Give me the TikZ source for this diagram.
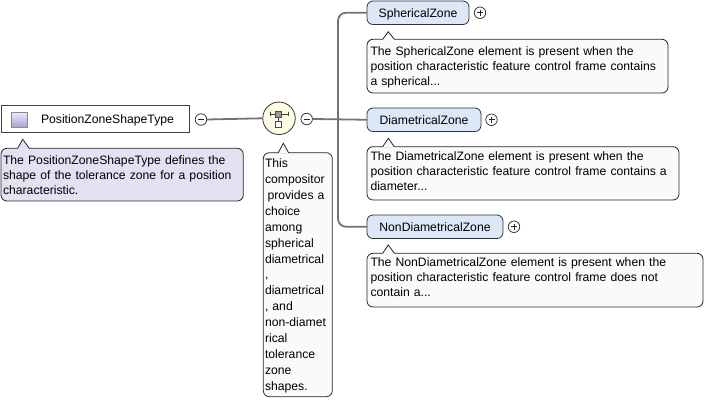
\documentclass[tikz,border=0pt]{standalone}
\usepackage{fontspec}
\setmainfont{Liberation Sans}
\definecolor{lavfill}{RGB}{230,225,242}
\definecolor{namefill}{RGB}{220,231,247}
\definecolor{compfill}{RGB}{255,252,228}
\definecolor{cdocfill}{RGB}{250,250,250}
\definecolor{iconlight}{RGB}{236,232,250}
\definecolor{icondark}{RGB}{172,156,214}
\begin{document}
\begin{tikzpicture}[x=1pt,y=-1pt,
  every node/.style={inner sep=0pt, outer sep=0pt},
  txt/.style={font=\fontsize{12.2}{15}\selectfont, text=black},
  mtxt/.style={txt, anchor=base west, align=left, text width=400pt},
  docbox/.style={draw=black!85, line width=0.8pt, rounded corners=6pt, anchor=north west},
  docline/.style={draw=black!85, line width=0.8pt},
  namebox/.style={txt, draw=black!80, fill=namefill, line width=0.8pt, rounded corners=6pt,
    anchor=north west, text height=9pt, text depth=0pt},
  pmcircle/.style={circle, draw=black!85, fill=white, line width=0.7pt, minimum size=11.5pt},
  minussign/.style={pmcircle, path picture={\draw[line width=0.7pt,black!85]
    ([xshift=-3pt]path picture bounding box.center) -- ([xshift=3pt]path picture bounding box.center);}},
  plussign/.style={pmcircle, path picture={\draw[line width=0.7pt,black!85]
    ([xshift=-3pt]path picture bounding box.center) -- ([xshift=3pt]path picture bounding box.center)
    ([yshift=-3pt]path picture bounding box.center) -- ([yshift=3pt]path picture bounding box.center);}},
  conn/.style={draw=black!55, line width=1.8pt},
]
\useasboundingbox (0,0) rectangle (710,401);

% ---- root type
\node[draw=black!75, fill=white, line width=0.8pt, minimum width=188.5pt, minimum height=27pt, anchor=north west] (ptype) at (1,105) {};
\node[draw=black!45, line width=0.6pt, top color=iconlight, bottom color=icondark, minimum width=16pt, minimum height=15pt, anchor=north west] (picon) at (11,112.5) {};
\node[txt, anchor=base west] (ptypelbl) at (41,124) {PositionZoneShapeType};
\node[minussign] (lminus) at (201,119.5) {};

% root documentation
\node[docbox, fill=lavfill, minimum width=242.3pt, minimum height=52.7pt] (ldoc) at (1,148.3) {};
\fill[lavfill] (17.7,149) -- (22.7,139.3) -- (29.3,149) -- cycle;
\draw[docline] (17.7,148.3) -- (22.7,139.3) -- (29.3,148.3);
\node[mtxt] (ldoctext) at (3,164.3) {The PositionZoneShapeType defines the\\shape of the tolerance zone for a position\\characteristic.};

% ---- compositor
\node[circle, draw=black!80, fill=compfill, line width=0.8pt, minimum size=32.5pt] (comp) at (279,118.3) {};
\draw[black!75, line width=0.7pt] (270,114) -- (288,114) (270,112) -- (270,116) (288,112) -- (288,116)
  (278.7,117) -- (278.7,121);
\draw[black!70, fill=black!40, line width=0.6pt] (275.7,111) rectangle (281.7,117);
\draw[black!70, fill=white, line width=0.6pt] (275.7,121) rectangle (281.7,127.5);
\node[minussign] (cminus) at (306.7,119) {};

% compositor documentation
\node[docbox, fill=cdocfill, minimum width=69pt, minimum height=244pt] (cdoc) at (263.3,152.7) {};
\fill[cdocfill] (278.3,153.4) -- (283.3,143.3) -- (288.6,153.4) -- cycle;
\draw[docline] (278.3,152.7) -- (283.3,143.3) -- (288.6,152.7);
\node[mtxt, font=\fontsize{12.2}{15.9}\selectfont] (cdoctext) at (265,167.7) {This\\compositor\\\hspace*{2.5pt}provides a\\choice\\among\\spherical\\diametrical\\,\\diametrical\\, and\\non-diamet\\rical\\tolerance\\zone\\shapes.};

% ---- children
\node[namebox, minimum width=102pt, minimum height=23.5pt] (sname) at (367,1) {SphericalZone};
\node[plussign] (splus) at (480,12.75) {};
\node[namebox, minimum width=114pt, minimum height=23.5pt] (dname) at (367,108) {DiametricalZone};
\node[plussign] (dplus) at (491.5,119.75) {};
\node[namebox, minimum width=136pt, minimum height=23.5pt] (nname) at (367,215) {NonDiametricalZone};
\node[plussign] (nplus) at (514,226.75) {};

% child docs
\node[docbox, fill=cdocfill, minimum width=301pt, minimum height=53.7pt] (sdoc) at (367,39.3) {};
\fill[cdocfill] (382.7,40) -- (388.3,31.7) -- (394.3,40) -- cycle;
\draw[docline] (382.7,39.3) -- (388.3,31.7) -- (394.3,39.3);
\node[mtxt] (sdoctext) at (370.5,56) {The SphericalZone element is present when the\\position characteristic feature control frame contains\\a spherical...};

\node[docbox, fill=cdocfill, minimum width=312pt, minimum height=53.3pt] (ddoc) at (367,146.7) {};
\fill[cdocfill] (382.7,147.4) -- (388.3,138.3) -- (394.3,147.4) -- cycle;
\draw[docline] (382.7,146.7) -- (388.3,138.3) -- (394.3,146.7);
\node[mtxt] (ddoctext) at (370.5,161) {The DiametricalZone element is present when the\\position characteristic feature control frame contains a\\diameter...};

\node[docbox, fill=cdocfill, minimum width=336pt, minimum height=53.7pt] (ndoc) at (367,253.3) {};
\fill[cdocfill] (382.7,254) -- (388.3,245) -- (394.3,254) -- cycle;
\draw[docline] (382.7,253.3) -- (388.3,245) -- (394.3,253.3);
\node[mtxt] (ndoctext) at (370.5,266) {The NonDiametricalZone element is present when the\\position characteristic feature control frame does not\\contain a...};

% ---- connectors
\coordinate (branch) at (338,119.75);
\draw[conn] (lminus.east) -- (comp.west);
\draw[conn] (cminus.east) -- (dname.west);
\draw[conn, rounded corners=8pt] (sname.west) -| (branch) |- (nname.west);
\end{tikzpicture}
\end{document}
